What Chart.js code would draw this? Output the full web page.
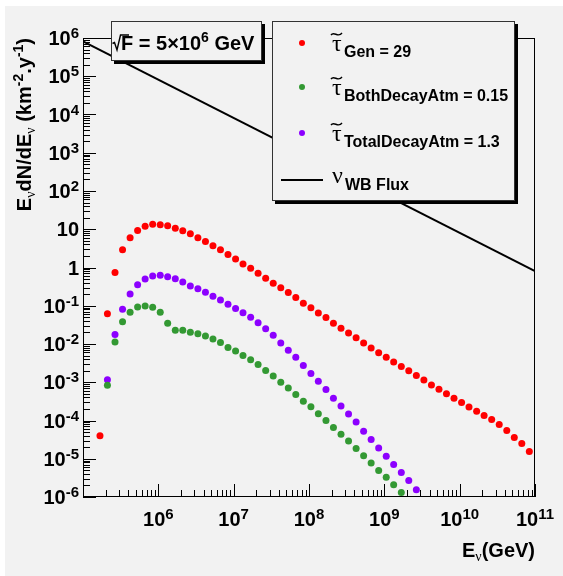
<!DOCTYPE html>
<html lang="en">
<head>
    <meta charset="UTF-8">
    <title>Tau flux vs neutrino energy</title>
    <script src="https://cdn.jsdelivr.net/npm/chart.js"></script>
    <style>
        body {
            margin: 0;
            background: #ffffff;
        }
        #fluxChart {
            display: block;
        }
    </style>
</head>
<body>
    <canvas id="fluxChart" width="563" height="576"></canvas>

    <script>
        // neutrino energy bin centres (GeV)
        const energy = [
            1.68e5, 2.11e5, 2.66e5, 3.35e5, 4.22e5, 5.31e5, 6.68e5, 8.41e5,
            1.06e6, 1.33e6, 1.68e6, 2.11e6, 2.66e6, 3.35e6, 4.22e6, 5.31e6, 6.68e6, 8.41e6,
            1.06e7, 1.33e7, 1.68e7, 2.11e7, 2.66e7, 3.35e7, 4.22e7, 5.31e7, 6.68e7, 8.41e7,
            1.06e8, 1.33e8, 1.68e8, 2.11e8, 2.66e8, 3.35e8, 4.22e8, 5.31e8, 6.68e8, 8.41e8,
            1.06e9, 1.33e9, 1.68e9, 2.11e9, 2.66e9, 3.35e9, 4.22e9, 5.31e9, 6.68e9, 8.41e9,
            1.06e10, 1.33e10, 1.68e10, 2.11e10, 2.66e10, 3.35e10, 4.22e10, 5.31e10, 6.68e10, 8.41e10
        ];

        // generated taus, starts at energy[0]
        const fluxGen = [
            4.0e-5, 0.062, 0.74, 2.9, 6.0, 9.3, 12.0, 13.5,
            13.2, 12.3, 10.7, 9.1, 7.6, 6.0, 4.8, 3.7, 2.9, 2.2,
            1.66, 1.23, 0.95, 0.71, 0.52, 0.39, 0.295, 0.221, 0.164, 0.117,
            0.089, 0.065, 0.049, 0.035, 0.026, 0.0195, 0.0145, 0.0107, 0.0079, 0.0059,
            0.0045, 0.0034, 0.0026, 0.0020, 0.0015, 0.00115, 8.5e-4, 6.6e-4, 5.0e-4, 3.8e-4,
            2.95e-4, 2.24e-4, 1.74e-4, 1.35e-4, 1.07e-4, 7.9e-5, 5.5e-5, 3.6e-5, 2.5e-5, 1.55e-5
        ];

        // both decay in atmosphere, starts at energy[1]
        const fluxBoth = [
            8.3e-4, 0.0112, 0.038, 0.068, 0.093, 0.098, 0.091,
            0.068, 0.035, 0.023, 0.023, 0.0204, 0.0186, 0.0162, 0.0135, 0.011,
            0.0081, 0.0066, 0.0050, 0.0039, 0.0029, 0.00204, 0.00145, 0.0010, 7.1e-4, 4.8e-4,
            3.2e-4, 2.3e-4, 1.5e-4, 1.0e-4, 6.6e-5, 4.4e-5, 2.9e-5, 1.86e-5, 1.2e-5, 7.8e-6,
            4.9e-6, 3.3e-6, 2.1e-6, 1.32e-6
        ];

        // total decay in atmosphere, starts at energy[1]
        const fluxTotal = [
            0.00117, 0.0178, 0.081, 0.204, 0.355, 0.50, 0.60,
            0.63, 0.575, 0.51, 0.42, 0.33, 0.28, 0.224, 0.178, 0.141,
            0.110, 0.085, 0.066, 0.050, 0.036, 0.025, 0.017, 0.0107, 0.0069, 0.0045,
            0.00275, 0.0017, 0.00107, 6.5e-4, 3.8e-4, 2.4e-4, 1.48e-4, 9.1e-5, 5.2e-5, 3.2e-5,
            1.9e-5, 1.17e-5, 7.1e-6, 4.4e-6, 2.7e-6, 1.55e-6
        ];

        // Waxman-Bahcall bound
        const wbEnergy = [1e5, 1e11];
        const wbFlux = [8.1e5, 0.81];

        const xDecades = [5, 6, 7, 8, 9, 10, 11];
        const yDecades = [-6, -5, -4, -3, -2, -1, 0, 1, 2, 3, 4, 5, 6];

        const legendItems = [
            { sub: 'Gen = 29', color: '#ff0000' },
            { sub: 'BothDecayAtm = 0.15', color: '#339933' },
            { sub: 'TotalDecayAtm = 1.3', color: '#8c00ff' }
        ];

        const SANS = '"Liberation Sans", Arial, Helvetica, sans-serif';
        const SERIF = '"Liberation Serif", "Times New Roman", serif';
        const GRAY = '#f2f2f2';

        function points(values, offset) {
            return values.map((v, i) => ({ x: energy[i + offset], y: v }));
        }

        // text pieces drawn left to right
        function runWidth(ctx, pieces) {
            let w = 0;
            pieces.forEach(p => { ctx.font = p.font; w += ctx.measureText(p.t).width; });
            return w;
        }
        function drawRun(ctx, pieces, x, y) {
            pieces.forEach(p => {
                ctx.font = p.font;
                ctx.fillText(p.t, x, y + (p.dy || 0));
                x += ctx.measureText(p.t).width;
            });
        }

        function powLabel(d, big, small) {
            if (d === 0) return [{ t: '1', font: big }];
            if (d === 1) return [{ t: '10', font: big }];
            return [{ t: '10', font: big }, { t: String(d), font: small, dy: -7 }];
        }

        function shadowBox(ctx, x, y, w, h) {
            ctx.fillStyle = '#000';
            ctx.fillRect(x + 3, y + 3, w, h);
            ctx.fillStyle = GRAY;
            ctx.fillRect(x, y, w, h);
            ctx.strokeStyle = '#333';
            ctx.lineWidth = 1;
            ctx.strokeRect(x + 0.5, y + 0.5, w - 1, h - 1);
        }

        function tauTilde(ctx, x, base) {
            ctx.fillStyle = '#000';
            ctx.font = '24px ' + SERIF;
            ctx.fillText('\u03C4', x, base);
            const ty = base - 17;
            ctx.strokeStyle = '#000';
            ctx.lineWidth = 1.4;
            ctx.beginPath();
            ctx.moveTo(x - 1, ty + 1.5);
            ctx.bezierCurveTo(x + 2, ty - 3, x + 6, ty + 5, x + 10, ty - 0.5);
            ctx.stroke();
        }

        const rootBackground = {
            id: 'rootBackground',
            beforeDraw(chart) {
                const ctx = chart.ctx;
                ctx.save();
                ctx.fillStyle = '#ffffff';
                ctx.fillRect(0, 0, chart.width, chart.height);
                ctx.fillStyle = GRAY;
                ctx.fillRect(5, 6, chart.width - 5, chart.height - 6);
                ctx.restore();
            }
        };

        const rootFrame = {
            id: 'rootFrame',
            afterDraw(chart) {
                const ctx = chart.ctx;
                const a = chart.chartArea;
                const xs = chart.scales.x, ys = chart.scales.y;
                ctx.save();

                // frame
                ctx.strokeStyle = '#000';
                ctx.lineWidth = 1;
                ctx.strokeRect(Math.round(a.left) + 0.5, Math.round(a.top) + 0.5,
                    Math.round(a.right - a.left) - 1, Math.round(a.bottom - a.top) - 1);

                // ticks
                ctx.beginPath();
                yDecades.forEach(d => {
                    const py = Math.round(ys.getPixelForValue(Math.pow(10, d))) + 0.5;
                    ctx.moveTo(a.left, py); ctx.lineTo(a.left + 13, py);
                    if (d < 6) {
                        for (let k = 2; k <= 9; k++) {
                            const my = Math.round(ys.getPixelForValue(k * Math.pow(10, d))) + 0.5;
                            ctx.moveTo(a.left, my); ctx.lineTo(a.left + 7, my);
                        }
                    }
                });
                xDecades.forEach(d => {
                    const px = Math.round(xs.getPixelForValue(Math.pow(10, d))) + 0.5;
                    ctx.moveTo(px, a.bottom); ctx.lineTo(px, a.bottom - 13);
                    if (d < 11) {
                        for (let k = 2; k <= 9; k++) {
                            const mx = Math.round(xs.getPixelForValue(k * Math.pow(10, d))) + 0.5;
                            ctx.moveTo(mx, a.bottom); ctx.lineTo(mx, a.bottom - 7);
                        }
                    }
                });
                ctx.stroke();

                // tick labels
                const big = 'bold 20px ' + SANS, small = 'bold 15px ' + SANS;
                ctx.fillStyle = '#000';
                ctx.textAlign = 'left';
                ctx.textBaseline = 'alphabetic';
                yDecades.forEach(d => {
                    const py = ys.getPixelForValue(Math.pow(10, d));
                    const run = powLabel(d, big, small);
                    const w = runWidth(ctx, run);
                    drawRun(ctx, run, 79 - w, py + 7);
                });
                xDecades.slice(1).forEach(d => {
                    const px = xs.getPixelForValue(Math.pow(10, d));
                    const run = powLabel(d, big, small);
                    const w = runWidth(ctx, run);
                    drawRun(ctx, run, px - w / 2, 526);
                });

                // axis titles
                const tf = 'bold 20px ' + SANS, ts = 'bold 14px ' + SANS;
                const nu = '14px ' + SERIF;
                const xTitle = [{ t: 'E', font: tf }, { t: '\u03BD', font: nu, dy: 4 }, { t: '(GeV)', font: tf }];
                drawRun(ctx, xTitle, a.right - runWidth(ctx, xTitle), 557);

                const yTitle = [
                    { t: 'E', font: tf }, { t: '\u03BD', font: nu, dy: 4 },
                    { t: 'dN/dE', font: tf }, { t: '\u03BD', font: nu, dy: 4 },
                    { t: ' (km', font: tf }, { t: '-2', font: ts, dy: -8 },
                    { t: '.y', font: tf }, { t: '-1', font: ts, dy: -8 }, { t: ')', font: tf }
                ];
                ctx.save();
                ctx.translate(31, a.top);
                ctx.rotate(-Math.PI / 2);
                drawRun(ctx, yTitle, -runWidth(ctx, yTitle), 0);
                ctx.restore();

                // sqrt(F) box
                shadowBox(ctx, 111, 21, 151, 40);
                ctx.strokeStyle = '#000';
                ctx.lineWidth = 1.4;
                ctx.beginPath();
                ctx.moveTo(112.5, 43.5);
                ctx.lineTo(114.5, 42.5);
                ctx.lineTo(117, 50);
                ctx.lineTo(120.5, 35);
                ctx.lineTo(129, 35);
                ctx.stroke();
                ctx.fillStyle = '#000';
                drawRun(ctx, [
                    { t: 'F = 5\u00D710', font: 'bold 20px ' + SANS },
                    { t: '6', font: 'bold 14px ' + SANS, dy: -8 },
                    { t: ' GeV', font: 'bold 20px ' + SANS }
                ], 121, 50);

                // legend
                shadowBox(ctx, 272, 21, 243, 180);
                const subBase = [57, 101, 147];
                legendItems.forEach((item, i) => {
                    ctx.fillStyle = item.color;
                    ctx.beginPath();
                    ctx.arc(302, subBase[i] - 14, 3, 0, Math.PI * 2);
                    ctx.fill();
                    tauTilde(ctx, 332, subBase[i] - 6.5);
                    ctx.fillStyle = '#000';
                    ctx.font = 'bold 16px ' + SANS;
                    ctx.fillText(item.sub, 344, subBase[i]);
                });
                ctx.strokeStyle = '#000';
                ctx.lineWidth = 2;
                ctx.beginPath();
                ctx.moveTo(281, 180);
                ctx.lineTo(323, 180);
                ctx.stroke();
                ctx.fillStyle = '#000';
                ctx.font = '24px ' + SERIF;
                ctx.fillText('\u03BD', 332, 183);
                ctx.font = 'bold 16px ' + SANS;
                ctx.fillText('WB Flux', 345, 189.5);

                ctx.restore();
            }
        };

        const ctx = document.getElementById('fluxChart').getContext('2d');
        const fluxChart = new Chart(ctx, {
            type: 'scatter',
            data: {
                datasets: [
                    {
                        label: 'Gen',
                        data: points(fluxGen, 0),
                        backgroundColor: legendItems[0].color,
                        borderWidth: 0,
                        pointRadius: 3.5
                    },
                    {
                        label: 'BothDecayAtm',
                        data: points(fluxBoth, 1),
                        backgroundColor: legendItems[1].color,
                        borderWidth: 0,
                        pointRadius: 3.5
                    },
                    {
                        label: 'TotalDecayAtm',
                        data: points(fluxTotal, 1),
                        backgroundColor: legendItems[2].color,
                        borderWidth: 0,
                        pointRadius: 3.5
                    },
                    {
                        label: 'WB Flux',
                        data: wbEnergy.map((e, i) => ({ x: e, y: wbFlux[i] })),
                        showLine: true,
                        borderColor: '#000',
                        borderWidth: 2,
                        pointRadius: 0
                    }
                ]
            },
            options: {
                responsive: false,
                animation: false,
                devicePixelRatio: 1,
                layout: {
                    padding: { left: 83, top: 38, right: 28, bottom: 79 }
                },
                scales: {
                    x: { type: 'logarithmic', min: 1e5, max: 1e11, display: false },
                    y: { type: 'logarithmic', min: 1e-6, max: 1e6, display: false }
                },
                plugins: {
                    legend: { display: false },
                    tooltip: { enabled: false }
                }
            },
            plugins: [rootBackground, rootFrame]
        });
    </script>
</body>
</html>
